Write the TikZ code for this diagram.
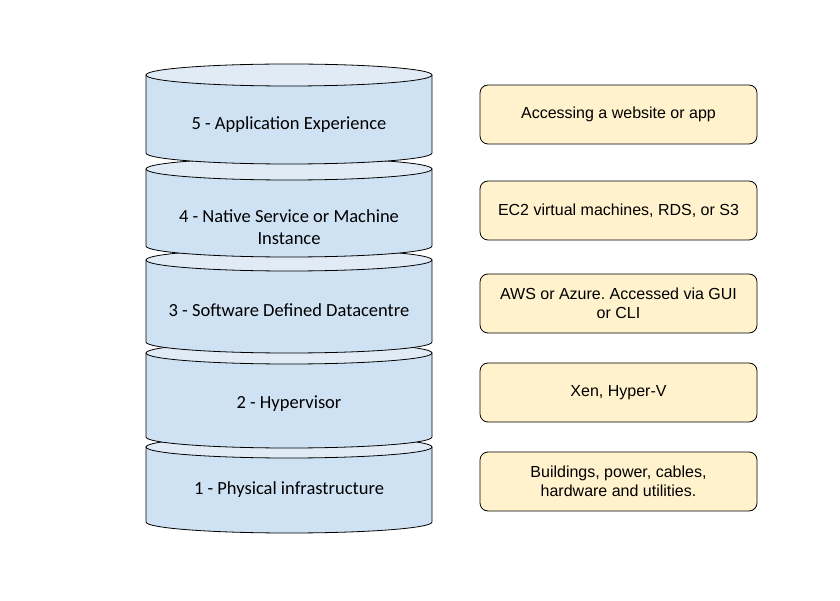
\documentclass[tikz,border=0pt]{standalone}
\usepackage{fontspec}
\setmainfont{Liberation Sans}
\newfontfamily\layerfont{Carlito}
\usetikzlibrary{positioning}
\definecolor{layerblue}{HTML}{CFE2F3}
\definecolor{layertop}{HTML}{E1EBF6}
\definecolor{notefill}{HTML}{FFF2CC}
\frenchspacing

\begin{document}
\begin{tikzpicture}[x=1pt, y=1pt,
  layer/.style={font=\layerfont\fontsize{18.5}{22}\selectfont, align=center},
  note/.style={draw=black, fill=notefill, line width=0.8pt,
    rounded corners=8pt, minimum width=277pt, minimum height=59pt,
    align=center, font=\fontsize{16}{19}\selectfont, inner sep=0pt},
]
\useasboundingbox (0,0) rectangle (840,600);

%% Cylinders, lowest first so each one above overlaps the next
\foreach \ytop/\ybot in {153/78, 247/163, 340/258, 431/354, 525/447} {
  \filldraw[fill=layerblue, line width=0.8pt]
    (146,\ytop) -- (146,\ybot)
    arc[start angle=180, end angle=360, x radius=143, y radius=11]
    -- (432,\ytop) -- cycle;
  \filldraw[fill=layertop, line width=0.8pt]
    (289,\ytop) ellipse[x radius=143, y radius=11];
}

%% Layer names
\node[layer] (app) at (289,475) {5 - Application Experience};
\node[layer] (native) at (289,373) {4 - Native Service or Machine\\Instance};
\node[layer] (sddc) at (289,290) {3 - Software Defined Datacentre};
\node[layer] (hyper) at (289,196) {2 - Hypervisor};
\node[layer] (phys) at (289,110) {1 - Physical infrastructure};

%% Examples for each layer
\node[note] (web) at (618.5,485.5) {Accessing a website or app};
\node[note] (ec2) at (618.5,389.5) {EC2 virtual machines, RDS, or S3};
\node[note] (cloud) at (618.5,296.5) {AWS or Azure. Accessed via GUI\\or CLI};
\node[note] (xen) at (618.5,207.5) {Xen, Hyper-V};
\node[note] (bldg) at (618.5,118.5) {Buildings, power, cables,\\hardware and utilities.};

\end{tikzpicture}
\end{document}
